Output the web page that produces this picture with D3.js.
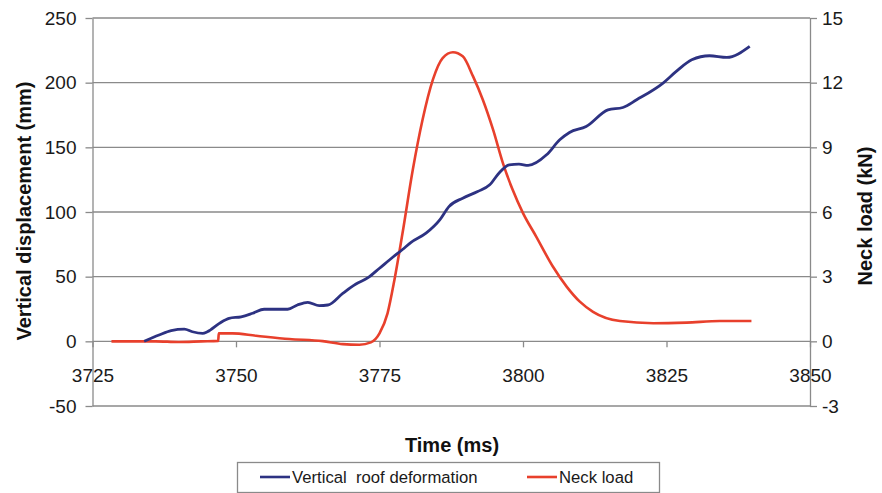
<!DOCTYPE html>
<html>
<head>
<meta charset="utf-8">
<script src="https://cdn.jsdelivr.net/npm/d3@7"></script>
<style>
  body { margin: 0; background: #fff; }
  svg { font-family: "Liberation Sans", Arial, sans-serif; }
  .axis path, .axis line { stroke: #8a8a8a; stroke-width: 1.3; }
  .axis text { fill: #1a1a1a; font-size: 19px; }
</style>
</head>
<body>
<svg id="chart" width="882" height="493"></svg>
<script>
// time (ms) and values
const roofTime = [3734.0, 3736.6, 3738.7, 3741.0, 3742.4, 3744.2, 3745.0, 3747.1, 3748.8, 3750.9,
  3752.9, 3754.9, 3759.0, 3760.7, 3762.5, 3764.5, 3766.0, 3768.6, 3770.9, 3773.0,
  3775.0, 3777.3, 3779.0, 3780.5, 3783.1, 3785.5, 3787.1, 3789.5, 3792.1, 3794.2,
  3795.8, 3797.6, 3799.3, 3800.9, 3804.1, 3806.4, 3808.1, 3811.0, 3814.8, 3817.4,
  3819.8, 3824.4, 3826.7, 3829.4, 3832.5, 3835.5, 3839.5];
const roofDeformation = [0, 4.9, 8.3, 9.4, 7.4, 6.2, 7.4, 13.9, 17.8, 19.0,
  21.7, 24.8, 24.8, 28.1, 30.2, 27.6, 28.1, 37.1, 44.3, 49.2,
  56.5, 65.0, 71.0, 76.5, 83.6, 93.9, 104.2, 110.7, 115.8, 121.0,
  130.0, 136.5, 137.0, 136.0, 144.2, 155.8, 161.5, 166.1, 179.0, 180.8,
  186.8, 199.7, 208.7, 217.7, 220.8, 219.5, 228.0];

const neckTime = [3728.3, 3736.0, 3740.0, 3744.0, 3746.9, 3747.0, 3749.4, 3753.5, 3759.3, 3765.1,
  3768.6, 3771.5, 3773.5, 3775.0, 3776.4, 3777.6, 3779.0, 3780.8, 3782.5, 3784.3,
  3786.0, 3787.8, 3789.5, 3791.3, 3793.0, 3794.8, 3796.5, 3798.2, 3800.0, 3802.3,
  3805.2, 3807.6, 3809.9, 3812.2, 3816.9, 3822.7, 3828.5, 3834.3, 3839.8];
const neckLoad = [0, 0, -0.03, 0, 0.02, 0.37, 0.37, 0.26, 0.11, 0.01,
  -0.13, -0.16, -0.05, 0.37, 1.3, 2.85, 5.0, 7.96, 10.28, 12.14,
  13.14, 13.41, 13.22, 12.29, 11.21, 9.81, 8.27, 7.03, 5.95, 4.86,
  3.47, 2.54, 1.84, 1.37, 0.94, 0.84, 0.87, 0.94, 0.94];

const timeTicks = [3725, 3750, 3775, 3800, 3825, 3850];
const leftTicks = [-50, 0, 50, 100, 150, 200, 250];
const rightTicks = [-3, 0, 3, 6, 9, 12, 15];
const seriesNames = ["Vertical  roof deformation", "Neck load"];
const seriesColors = ["#2d3282", "#e8402c"];

const svg = d3.select("#chart");
const plot = {left: 92.5, right: 810, top: 18, bottom: 406};

let x = d3.scaleLinear().domain([3725, 3850]).range([plot.left, plot.right]);
let yLeft = d3.scaleLinear().domain([-50, 250]).range([plot.bottom, plot.top]);
let yRight = d3.scaleLinear().domain([-3, 15]).range([plot.bottom, plot.top]);

//plain hyphen for negatives, like the original
let plain = d => String(d);

//gridlines
svg.append("g").selectAll("line").data(leftTicks)
    .enter().append("line")
    .attr("x1", plot.left).attr("x2", plot.right)
    .attr("y1", d => yLeft(d)).attr("y2", d => yLeft(d))
    .attr("stroke", "#8a8a8a").attr("stroke-width", 1.3);

//left axis
svg.append("g").attr("class", "axis")
    .attr("transform", "translate(" + plot.left + ",0)")
    .call(d3.axisLeft(yLeft).tickValues(leftTicks).tickFormat(plain).tickSize(7).tickPadding(9).tickSizeOuter(0));

//right axis
svg.append("g").attr("class", "axis")
    .attr("transform", "translate(" + plot.right + ",0)")
    .call(d3.axisRight(yRight).tickValues(rightTicks).tickFormat(plain).tickSize(7).tickPadding(5).tickSizeOuter(0));

//time axis sits on the zero line
let xAxis = svg.append("g").attr("class", "axis")
    .attr("transform", "translate(0," + yLeft(0) + ")")
    .call(d3.axisBottom(x).tickValues(timeTicks).tickFormat(plain).tickSize(6).tickPadding(21).tickSizeOuter(0));
xAxis.select(".domain").remove();

//series
let roofData = roofTime.map((t, i) => ({t: t, v: roofDeformation[i]}));
let neckData = neckTime.map((t, i) => ({t: t, v: neckLoad[i]}));

svg.append("path").datum(neckData)
    .attr("fill", "none").attr("stroke", seriesColors[1]).attr("stroke-width", 2.6)
    .attr("d", d3.line().x(d => x(d.t)).y(d => yRight(d.v)).curve(d3.curveMonotoneX));

svg.append("path").datum(roofData)
    .attr("fill", "none").attr("stroke", seriesColors[0]).attr("stroke-width", 2.8)
    .attr("d", d3.line().x(d => x(d.t)).y(d => yLeft(d.v)).curve(d3.curveMonotoneX));

//axis titles
svg.append("text")
    .attr("transform", "translate(31,211) rotate(-90)")
    .attr("text-anchor", "middle")
    .attr("font-size", 20).attr("font-weight", "bold").attr("fill", "#111")
    .text("Vertical displacement (mm)");

svg.append("text")
    .attr("transform", "translate(872,216) rotate(-90)")
    .attr("text-anchor", "middle")
    .attr("font-size", 20).attr("font-weight", "bold").attr("fill", "#111")
    .text("Neck load (kN)");

svg.append("text")
    .attr("x", 452).attr("y", 452)
    .attr("text-anchor", "middle")
    .attr("font-size", 20).attr("font-weight", "bold").attr("fill", "#111")
    .text("Time (ms)");

//legend
let legend = svg.append("g");
legend.append("rect")
    .attr("x", 237.5).attr("y", 462.5).attr("width", 422).attr("height", 30)
    .attr("fill", "#fff").attr("stroke", "#8a8a8a").attr("stroke-width", 1.3);

let legendX = [260, 527];
legend.selectAll("line").data(seriesNames)
    .enter().append("line")
    .attr("x1", (d, i) => legendX[i]).attr("x2", (d, i) => legendX[i] + 30)
    .attr("y1", 477).attr("y2", 477)
    .attr("stroke", (d, i) => seriesColors[i]).attr("stroke-width", 2.6);

legend.selectAll("text").data(seriesNames)
    .enter().append("text")
    .attr("x", (d, i) => legendX[i] + 32).attr("y", 483)
    .attr("font-size", 16.7).attr("fill", "#1a1a1a")
    .style("white-space", "pre")
    .text(d => d);
</script>
</body>
</html>
